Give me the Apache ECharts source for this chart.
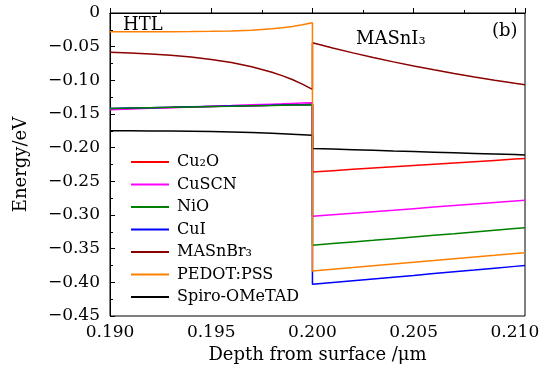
<!DOCTYPE html>
<html>
<head>
<meta charset="utf-8">
<script src="https://cdn.jsdelivr.net/npm/echarts@6/dist/echarts.min.js"></script>
<style>
  html, body { margin: 0; padding: 0; background: #fff; }
  #chart { width: 547px; height: 376px; }
</style>
</head>
<body>
<div id="chart"></div>
<script>
// Depth grid (µm) inside the hole-transport layer and inside the MASnI3 absorber
const depthHTL = [0.190, 0.191, 0.192, 0.193, 0.194, 0.195, 0.196, 0.197, 0.198, 0.1985, 0.199, 0.1995, 0.200];
const depthAbs = [0.200, 0.201, 0.202, 0.203, 0.204, 0.205, 0.206, 0.207, 0.208, 0.209, 0.210, 0.2105];

// Band energy (eV) for each HTL material: HTL part, then absorber part
const cu2oHTL   = [-0.1425, -0.1418, -0.1411, -0.1404, -0.1397, -0.1390, -0.1383, -0.1376, -0.1369, -0.1366, -0.1362, -0.1359, -0.1355];
const cu2oAbs   = [-0.2360, -0.2341, -0.2322, -0.2303, -0.2284, -0.2265, -0.2246, -0.2227, -0.2208, -0.2189, -0.2170, -0.2160];
const cuscnHTL  = [-0.1437, -0.1427, -0.1416, -0.1406, -0.1395, -0.1385, -0.1375, -0.1364, -0.1354, -0.1349, -0.1343, -0.1338, -0.1333];
const cuscnAbs  = [-0.3020, -0.2997, -0.2974, -0.2951, -0.2929, -0.2906, -0.2883, -0.2860, -0.2837, -0.2814, -0.2791, -0.2780];
const nioHTL    = [-0.1417, -0.1412, -0.1406, -0.1401, -0.1395, -0.1390, -0.1385, -0.1379, -0.1374, -0.1371, -0.1368, -0.1366, -0.1363];
const nioAbs    = [-0.3450, -0.3425, -0.3400, -0.3376, -0.3351, -0.3326, -0.3301, -0.3277, -0.3252, -0.3227, -0.3202, -0.3190];
const cuiHTL    = [-0.1418, -0.1412, -0.1406, -0.1400, -0.1394, -0.1388, -0.1382, -0.1376, -0.1370, -0.1367, -0.1364, -0.1361, -0.1358];
const cuiAbs    = [-0.4030, -0.4003, -0.3977, -0.3950, -0.3923, -0.3897, -0.3870, -0.3843, -0.3817, -0.3790, -0.3763, -0.3750];
const masnbrHTL = [-0.0584, -0.0595, -0.0610, -0.0629, -0.0655, -0.0690, -0.0736, -0.0798, -0.0879, -0.0930, -0.0988, -0.1056, -0.1134];
const masnbrAbs = [-0.0441, -0.0519, -0.0592, -0.0661, -0.0726, -0.0787, -0.0844, -0.0899, -0.0950, -0.0998, -0.1043, -0.1065];
const pedotHTL  = [-0.0278, -0.0278, -0.0278, -0.0277, -0.0275, -0.0272, -0.0266, -0.0256, -0.0234, -0.0218, -0.0200, -0.0175, -0.0144];
const pedotAbs  = [-0.3830, -0.3804, -0.3779, -0.3753, -0.3727, -0.3701, -0.3676, -0.3650, -0.3624, -0.3599, -0.3573, -0.3560];
const spiroHTL  = [-0.1750, -0.1750, -0.1751, -0.1753, -0.1756, -0.1760, -0.1766, -0.1774, -0.1786, -0.1793, -0.1800, -0.1807, -0.1814];
const spiroAbs  = [-0.2012, -0.2021, -0.2030, -0.2039, -0.2049, -0.2058, -0.2067, -0.2076, -0.2085, -0.2094, -0.2103, -0.2108];

const seriesNames  = ['Cu₂O', 'CuSCN', 'NiO', 'CuI', 'MASnBr₃', 'PEDOT:PSS', 'Spiro-OMeTAD'];
const seriesColors = ['#ff0000', '#ff00ff', '#008000', '#0000ff', '#8b0000', '#ff8000', '#000000'];
const seriesLayer  = [2, 2, 3, 2, 2, 4, 2];
const htlValues = [cu2oHTL, cuscnHTL, nioHTL, cuiHTL, masnbrHTL, pedotHTL, spiroHTL];
const absValues = [cu2oAbs, cuscnAbs, nioAbs, cuiAbs, masnbrAbs, pedotAbs, spiroAbs];

const yTicks = { min: -0.45, max: 0, step: 0.05 };
const xTicks = { min: 0.190, max: 0.2105, step: 0.005 };

const FONT = 'DejaVu Serif';

// Join the HTL and absorber pieces; the shared depth 0.200 gives the vertical step
function buildPoints(htl, abs) {
  const pts = depthHTL.map((d, i) => [d, htl[i]]);
  depthAbs.forEach((d, i) => pts.push([d, abs[i]]));
  return pts;
}

const series = seriesNames.map((name, i) => ({
  name: name,
  type: 'line',
  data: buildPoints(htlValues[i], absValues[i]),
  symbol: 'none',
  showSymbol: false,
  lineStyle: { color: seriesColors[i], width: 1.5 },
  itemStyle: { color: seriesColors[i] },
  z: seriesLayer[i]
}));

const chart = echarts.init(document.getElementById('chart'), null, { renderer: 'canvas' });
chart.setOption({
  animation: false,
  backgroundColor: '#ffffff',
  grid: {
    left: 110, right: 22, top: 13, bottom: 60,
    show: true, borderColor: '#000', borderWidth: 1, backgroundColor: 'transparent'
  },
  xAxis: {
    type: 'value',
    min: xTicks.min, max: xTicks.max, interval: xTicks.step,
    name: 'Depth from surface /μm',
    nameLocation: 'middle', nameGap: 24,
    nameTextStyle: { fontFamily: FONT, fontSize: 18, color: '#000' },
    axisLine: { show: true, lineStyle: { color: '#000', width: 1 } },
    axisTick: { show: true, inside: true, length: 5, lineStyle: { color: '#000' } },
    minorTick: { show: true, splitNumber: 2, length: 3, lineStyle: { color: '#000' } },
    splitLine: { show: false },
    axisLabel: {
      showMaxLabel: false,
      margin: 8, fontFamily: FONT, fontSize: 17, color: '#000',
      formatter: v => v.toFixed(3)
    }
  },
  yAxis: {
    type: 'value',
    min: yTicks.min, max: yTicks.max, interval: yTicks.step,
    name: 'Energy/eV',
    nameLocation: 'middle', nameGap: 80,
    nameTextStyle: { fontFamily: FONT, fontSize: 18, color: '#000' },
    axisLine: { show: true, lineStyle: { color: '#000', width: 1 } },
    axisTick: { show: true, inside: true, length: 5, lineStyle: { color: '#000' } },
    minorTick: { show: true, splitNumber: 2, length: 3, lineStyle: { color: '#000' } },
    splitLine: { show: false },
    axisLabel: {
      margin: 10, fontFamily: FONT, fontSize: 17, color: '#000',
      formatter: v => (Math.abs(v) < 1e-9 ? '0' : '\u2212' + Math.abs(v).toFixed(2))
    }
  },
  legend: {
    orient: 'vertical',
    left: 130, top: 154, padding: 0,
    itemWidth: 38, itemHeight: 16, itemGap: 6.5,
    data: seriesNames,
    // line-only keys: the marker on each key is made invisible
    itemStyle: { color: 'transparent', borderColor: 'transparent', borderWidth: 0, opacity: 0 },
    textStyle: { fontFamily: FONT, fontSize: 16, lineHeight: 16, color: '#000', padding: [0, 0, 0, 3] }
  },
  graphic: [
    { type: 'text', left: 123, top: 16,
      style: { text: 'HTL', font: '18px "DejaVu Serif"', fill: '#000' } },
    { type: 'text', left: 356, top: 30,
      style: { text: 'MASnI₃', font: '18px "DejaVu Serif"', fill: '#000' } },
    { type: 'text', left: 492, top: 22,
      style: { text: '(b)', font: '18px "DejaVu Serif"', fill: '#000' } }
  ],
  series: series
});
</script>
</body>
</html>
